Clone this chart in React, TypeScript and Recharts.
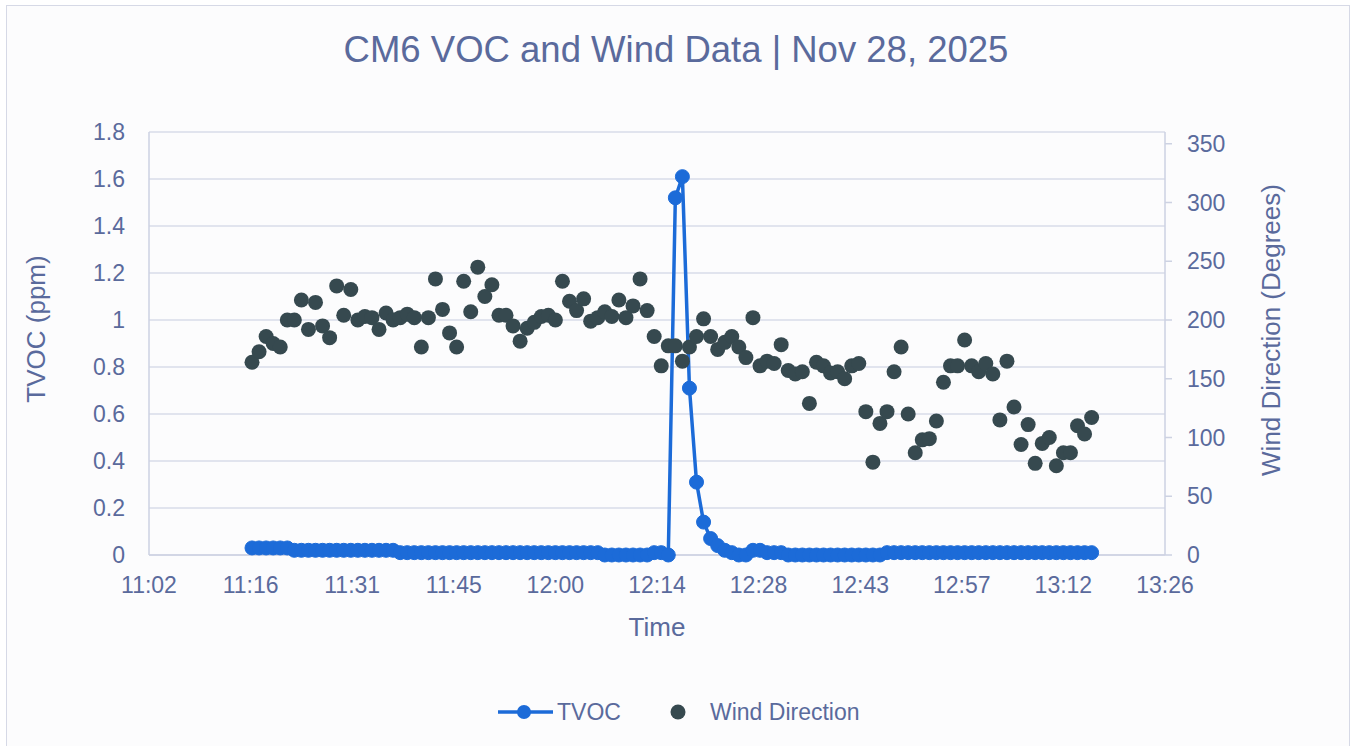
import { ComposedChart, Line, Scatter, XAxis, YAxis, CartesianGrid, Legend, Label } from 'recharts'

// one reading per minute
const TIMES = [
  '11:17', '11:18', '11:19', '11:20', '11:21', '11:22', '11:23', '11:24', '11:25', '11:26',
  '11:27', '11:28', '11:29', '11:30', '11:31', '11:32', '11:33', '11:34', '11:35', '11:36',
  '11:37', '11:38', '11:39', '11:40', '11:41', '11:42', '11:43', '11:44', '11:45', '11:46',
  '11:47', '11:48', '11:49', '11:50', '11:51', '11:52', '11:53', '11:54', '11:55', '11:56',
  '11:57', '11:58', '11:59', '12:00', '12:01', '12:02', '12:03', '12:04', '12:05', '12:06',
  '12:07', '12:08', '12:09', '12:10', '12:11', '12:12', '12:13', '12:14', '12:15', '12:16',
  '12:17', '12:18', '12:19', '12:20', '12:21', '12:22', '12:23', '12:24', '12:25', '12:26',
  '12:27', '12:28', '12:29', '12:30', '12:31', '12:32', '12:33', '12:34', '12:35', '12:36',
  '12:37', '12:38', '12:39', '12:40', '12:41', '12:42', '12:43', '12:44', '12:45', '12:46',
  '12:47', '12:48', '12:49', '12:50', '12:51', '12:52', '12:53', '12:54', '12:55', '12:56',
  '12:57', '12:58', '12:59', '13:00', '13:01', '13:02', '13:03', '13:04', '13:05', '13:06',
  '13:07', '13:08', '13:09', '13:10', '13:11', '13:12', '13:13', '13:14', '13:15', '13:16',
]

// ppm
const TVOC = [
  0.03, 0.03, 0.03, 0.03, 0.03, 0.03, 0.02, 0.02, 0.02, 0.02,
  0.02, 0.02, 0.02, 0.02, 0.02, 0.02, 0.02, 0.02, 0.02, 0.02,
  0.02, 0.01, 0.01, 0.01, 0.01, 0.01, 0.01, 0.01, 0.01, 0.01,
  0.01, 0.01, 0.01, 0.01, 0.01, 0.01, 0.01, 0.01, 0.01, 0.01,
  0.01, 0.01, 0.01, 0.01, 0.01, 0.01, 0.01, 0.01, 0.01, 0.01,
  0.0, 0.0, 0.0, 0.0, 0.0, 0.0, 0.0, 0.01, 0.01, 0.0,
  1.52, 1.61, 0.71, 0.31, 0.14, 0.07, 0.04, 0.02, 0.01, 0.0,
  0.0, 0.02, 0.02, 0.01, 0.01, 0.01, 0.0, 0.0, 0.0, 0.0,
  0.0, 0.0, 0.0, 0.0, 0.0, 0.0, 0.0, 0.0, 0.0, 0.0,
  0.01, 0.01, 0.01, 0.01, 0.01, 0.01, 0.01, 0.01, 0.01, 0.01,
  0.01, 0.01, 0.01, 0.01, 0.01, 0.01, 0.01, 0.01, 0.01, 0.01,
  0.01, 0.01, 0.01, 0.01, 0.01, 0.01, 0.01, 0.01, 0.01, 0.01,
]

// degrees
const WIND_DIRECTION = [
  164, 173, 186, 180, 177, 200, 200, 217, 192, 215,
  195, 185, 229, 204, 226, 200, 203, 202, 192, 206,
  200, 202, 205, 202, 177, 202, 235, 209, 189, 177,
  233, 207, 245, 220, 230, 204, 204, 195, 182, 193,
  198, 203, 204, 200, 233, 216, 208, 218, 199, 202,
  207, 203, 217, 202, 212, 235, 208, 186, 161, 178,
  178, 165, 177, 186, 201, 186, 175, 181, 186, 177,
  168, 202, 161, 165, 163, 179, 157, 154, 156, 129,
  164, 161, 155, 156, 150, 161, 163, 122, 79, 112,
  122, 156, 177, 120, 87, 98, 99, 114, 147, 161,
  161, 183, 161, 156, 163, 154, 115, 165, 126, 94,
  111, 78, 95, 100, 76, 87, 87, 110, 103, 117,
]

// excel style time axis, in fractions of a day
const X_TICK_DAYS = [0.46, 0.47, 0.48, 0.49, 0.5, 0.51, 0.52, 0.53, 0.54, 0.55, 0.56]
const X_TICK_LABELS = ['11:02', '11:16', '11:31', '11:45', '12:00', '12:14', '12:28', '12:43', '12:57', '13:12', '13:26']
const TVOC_TICKS = [0, 0.2, 0.4, 0.6, 0.8, 1, 1.2, 1.4, 1.6, 1.8]
const WIND_TICKS = [0, 50, 100, 150, 200, 250, 300, 350]

const TVOC_COLOR = '#1c6bd8'
const WIND_COLOR = '#36494f'
const TEXT_COLOR = '#5a6a9c'
const GRID_COLOR = '#d9dce8'
const AXIS_COLOR = '#cdd2e2'
const FONT = '"Liberation Sans", Arial, sans-serif'

const toMinutes = (t: string) => {
  const [h, m] = t.split(':').map(Number)
  return h * 60 + m
}

const X_TICKS = X_TICK_DAYS.map(d => Math.round(d * 1440 * 10) / 10)

const data = TIMES.map((t, i) => ({
  t: toMinutes(t),
  tvoc: TVOC[i],
  wind: WIND_DIRECTION[i],
}))

const tickStyle = { fill: TEXT_COLOR, fontSize: 23, fontFamily: FONT }

const renderLegend = () => (
  <svg width={1352} height={36} style={{ display: 'block' }}>
    <line x1={498} y1={18} x2={553} y2={18} stroke={TVOC_COLOR} strokeWidth={3.5} />
    <circle cx={524} cy={18} r={7} fill={TVOC_COLOR} />
    <text x={557} y={18} dominantBaseline="central" fill={TEXT_COLOR} fontSize={23} fontFamily={FONT}>
      TVOC
    </text>
    <circle cx={678} cy={18} r={7.5} fill={WIND_COLOR} />
    <text x={710} y={18} dominantBaseline="central" fill={TEXT_COLOR} fontSize={23} fontFamily={FONT}>
      Wind Direction
    </text>
  </svg>
)

export default function App() {
  return (
    <div style={{ position: 'absolute', left: 0, top: 0, width: 1352, height: 746, overflow: 'hidden', background: '#ffffff' }}>
      <div
        style={{
          position: 'absolute',
          left: 6,
          top: 5,
          width: 1342,
          height: 760,
          border: '1.5px solid #d6d9e6',
          background: '#fcfcfd',
        }}
      />
      <div
        style={{
          position: 'absolute',
          left: 0,
          top: 29,
          width: 1352,
          textAlign: 'center',
          fontFamily: FONT,
          fontSize: 36.5,
          lineHeight: 'normal',
          color: TEXT_COLOR,
        }}
      >
        CM6 VOC and Wind Data | Nov 28, 2025
      </div>
      <div style={{ position: 'absolute', left: 0, top: 0 }}>
        <ComposedChart width={1352} height={746} data={data} margin={{ top: 132, right: 0, bottom: 0, left: 0 }}>
          <CartesianGrid yAxisId="left" vertical={false} stroke={GRID_COLOR} strokeWidth={1.5} />
          <XAxis
            dataKey="t"
            type="number"
            domain={[X_TICKS[0], X_TICKS[X_TICKS.length - 1]]}
            ticks={X_TICKS}
            interval={0}
            tickFormatter={(_v: number, i: number) => X_TICK_LABELS[i]}
            tickLine={false}
            tickMargin={16}
            axisLine={{ stroke: AXIS_COLOR, strokeWidth: 1.5 }}
            tick={tickStyle}
            height={191}
          >
            <Label
              content={() => (
                <text x={657} y={627} textAnchor="middle" dominantBaseline="central" fill={TEXT_COLOR} fontSize={26} fontFamily={FONT}>
                  Time
                </text>
              )}
            />
          </XAxis>
          <YAxis
            yAxisId="left"
            domain={[0, 1.8]}
            ticks={TVOC_TICKS}
            interval={0}
            tickFormatter={(v: number) => String(Math.round(v * 10) / 10)}
            tickLine={false}
            tickMargin={18}
            axisLine={{ stroke: AXIS_COLOR, strokeWidth: 1.5 }}
            tick={tickStyle}
            width={149}
          >
            <Label
              content={() => (
                <text
                  x={36}
                  y={329}
                  transform="rotate(-90 36 329)"
                  textAnchor="middle"
                  dominantBaseline="central"
                  fill={TEXT_COLOR}
                  fontSize={26}
                  fontFamily={FONT}
                >
                  TVOC (ppm)
                </text>
              )}
            />
          </YAxis>
          <YAxis
            yAxisId="right"
            orientation="right"
            domain={[0, 360]}
            ticks={WIND_TICKS}
            interval={0}
            tickSize={7}
            tickMargin={15}
            tickLine={{ stroke: AXIS_COLOR, strokeWidth: 1.5 }}
            axisLine={{ stroke: AXIS_COLOR, strokeWidth: 1.5 }}
            tick={{ ...tickStyle, textAnchor: 'start' }}
            width={187}
          >
            <Label
              content={() => (
                <text
                  x={1271}
                  y={330}
                  transform="rotate(-90 1271 330)"
                  textAnchor="middle"
                  dominantBaseline="central"
                  fill={TEXT_COLOR}
                  fontSize={26}
                  fontFamily={FONT}
                >
                  Wind Direction (Degrees)
                </text>
              )}
            />
          </YAxis>
          <Legend
            layout="horizontal"
            verticalAlign="middle"
            align="center"
            wrapperStyle={{ top: 694, left: 0, width: 1352, height: 36 }}
            content={renderLegend}
          />
          <Scatter
            yAxisId="right"
            dataKey="wind"
            name="Wind Direction"
            fill={WIND_COLOR}
            isAnimationActive={false}
            shape={(props: { cx?: number; cy?: number }) => (
              <circle cx={props.cx} cy={props.cy} r={7.5} fill={WIND_COLOR} />
            )}
          />
          <Line
            yAxisId="left"
            type="linear"
            dataKey="tvoc"
            name="TVOC"
            stroke={TVOC_COLOR}
            strokeWidth={3.5}
            dot={{ r: 7, fill: TVOC_COLOR, stroke: TVOC_COLOR, strokeWidth: 1 }}
            activeDot={false}
            isAnimationActive={false}
          />
        </ComposedChart>
      </div>
    </div>
  )
}
